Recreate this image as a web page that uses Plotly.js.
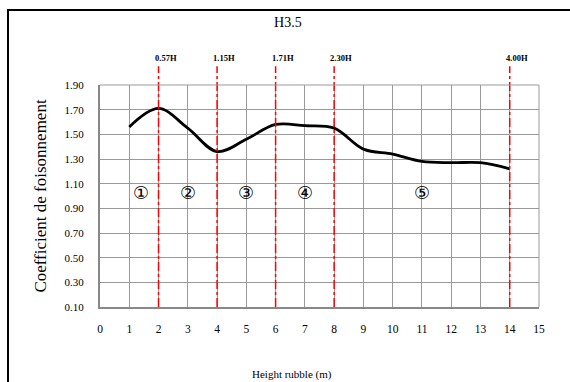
<!DOCTYPE html>
<html>
<head>
<meta charset="utf-8">
<script src="https://cdn.plot.ly/plotly-3.0.1.min.js"></script>
<style>
html,body{margin:0;padding:0;background:#fff;}
#wrap{position:relative;width:570px;height:382px;overflow:hidden;}
#chart{position:absolute;left:0;top:0;width:570px;height:382px;}
#frame{position:absolute;left:7px;top:9px;width:600px;height:400px;border-left:2px solid #000;border-top:2px solid #000;pointer-events:none;}
</style>
</head>
<body>
<div id="wrap"><div id="chart"></div><div id="frame"></div></div>
<script>
// Data
const heights = [1,2,3,4,5,6,7,8,9,10,11,12,13,14];
const coeff = [1.56,1.71,1.55,1.36,1.46,1.58,1.57,1.55,1.38,1.34,1.28,1.27,1.27,1.22];
const limitX = [2,4,6,8,14];
const limitLabels = ['0.57H','1.15H','1.71H','2.30H','4.00H'];
const zoneX = [1.4,3,5,7,11];
const zoneY = [1.03,1.03,1.03,1.03,1.03];
const zoneLabels = ['\u2460','\u2461','\u2462','\u2463','\u2464'];
const yTicks = [0.10,0.30,0.50,0.70,0.90,1.10,1.30,1.50,1.70,1.90];
const xTicks = [0,1,2,3,4,5,6,7,8,9,10,11,12,13,14,15];

const serif = 'Times New Roman';

const shapes = limitX.map(x => ({
  type:'line', xref:'x', yref:'paper', x0:x, x1:x, y0:0, y1:1.085,
  line:{color:'#ff0000', width:1.5, dash:'dashdot'}
}));

const annotations = limitX.map((x,i) => ({
  x:x, xref:'x', yref:'paper', y:1.12, yanchor:'middle', text:'<b>'+limitLabels[i]+'</b>',
  showarrow:false, xshift:7, font:{family:serif, size:8.5, color:'#000'}
})).concat(zoneX.map((x,i) => ({
  x:x, y:zoneY[i], xref:'x', yref:'y', yanchor:'middle', text:zoneLabels[i], showarrow:false,
  font:{family:'DejaVu Sans', size:18, color:'#000'}
}))).concat([{
  xref:'paper', yref:'paper', x:0.437, y:-0.306, yanchor:'middle', text:'Height rubble (m)',
  showarrow:false, font:{family:serif, size:11, color:'#000'}
}]);

Plotly.newPlot('chart', [{
  x: heights, y: coeff, type:'scatter', mode:'lines',
  line:{color:'#000', width:2.8, shape:'spline', smoothing:1},
  hoverinfo:'skip'
}], {
  width:570, height:382,
  margin:{l:100, r:31, t:85, b:75},
  paper_bgcolor:'#fff', plot_bgcolor:'#fff',
  showlegend:false,
  title:{text:'H3.5', x:0.505, xref:'container', y:0.942, yref:'container', yanchor:'middle',
         font:{family:serif, size:14, color:'#000'}},
  xaxis:{range:[0,15], tickvals:xTicks, ticktext:xTicks.map(String),
         showgrid:true, gridcolor:'#999', gridwidth:1,
         showline:true, linecolor:'#888', linewidth:2, mirror:false,
         zeroline:false, ticks:'', ticklabelstandoff:10,
         tickfont:{family:serif, size:11.5, color:'#000'}},
  yaxis:{range:[0.1,1.9], tickvals:yTicks, ticktext:yTicks.map(v=>v.toFixed(2)),
         showgrid:true, gridcolor:'#999', gridwidth:1,
         showline:true, linecolor:'#888', linewidth:2,
         zeroline:false, ticks:'', ticklabelstandoff:12,
         tickfont:{family:serif, size:11, color:'#000'},
         title:{text:'Coefficient de foisonnement', standoff:14,
                font:{family:serif, size:17, color:'#000'}}},
  shapes: shapes.concat([
    {type:'line', xref:'paper', yref:'paper', x0:1, x1:1, y0:0, y1:1, line:{color:'#999', width:1}},
    {type:'line', xref:'paper', yref:'paper', x0:0, x1:1, y0:1, y1:1, line:{color:'#999', width:1}}
  ]),
  annotations: annotations
}, {displayModeBar:false, staticPlot:true});
</script>
</body>
</html>
